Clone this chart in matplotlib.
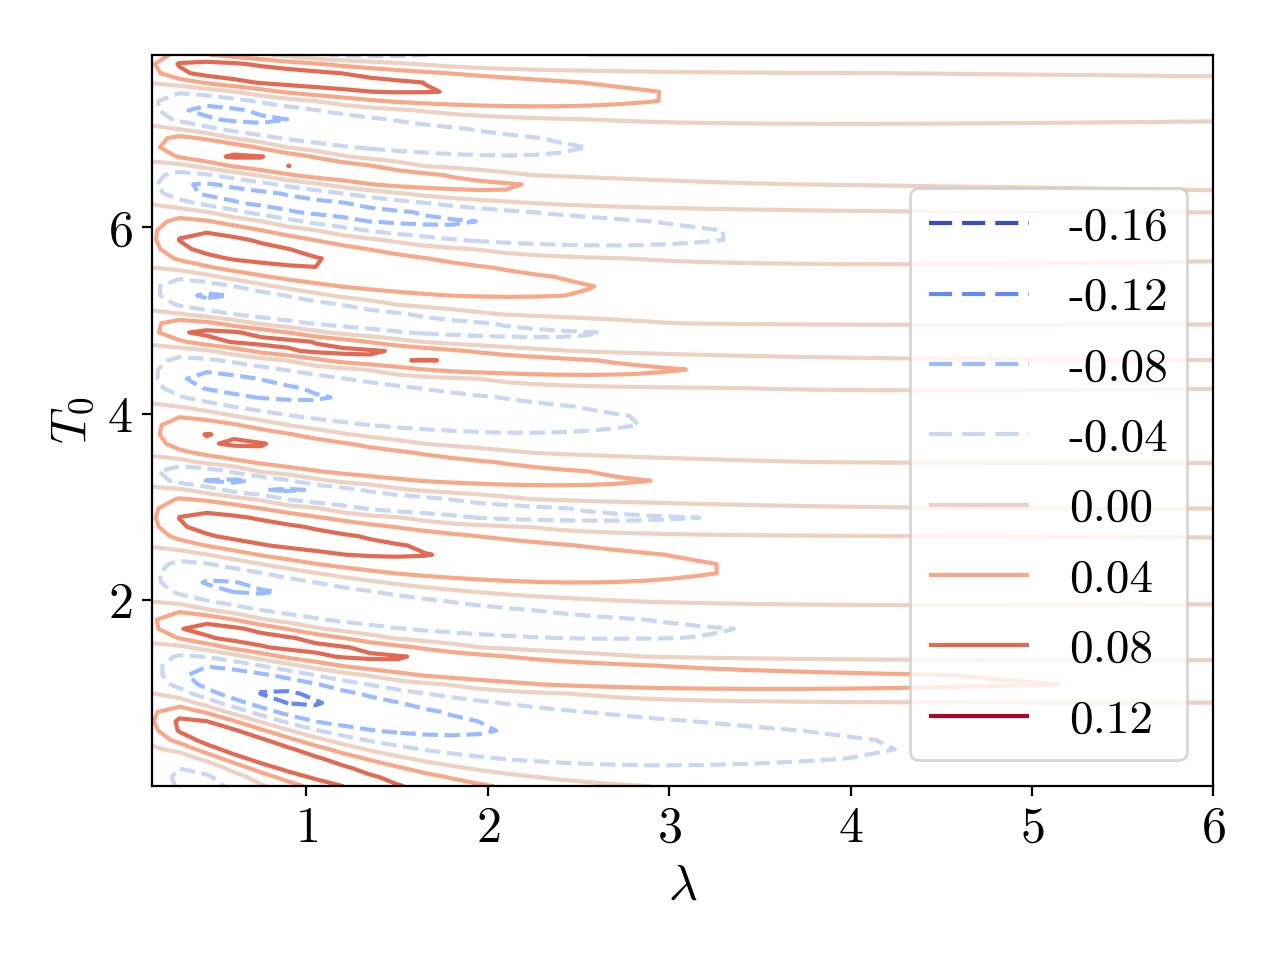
import numpy as np
import matplotlib
matplotlib.use("Agg")
import matplotlib.pyplot as plt
from matplotlib.colors import Normalize

plt.rcParams.update({
    "font.family": "serif",
    "font.serif": ["cmr10"],
    "mathtext.fontset": "cm",
    "axes.formatter.use_mathtext": True,
    "axes.unicode_minus": False,
    "font.size": 18,
})

LEVELS = [-0.16, -0.12, -0.08, -0.04, 0.00, 0.04, 0.08, 0.12]
LEVEL_LABELS = ["-0.16", "-0.12", "-0.08", "-0.04", "0.00", "0.04", "0.08", "0.12"]

# zero contours: T0 where each one settles at large lambda, and how much higher it starts at the left edge
ZERO_RIGHT = [-0.90, -0.10, 0.90, 1.33, 1.92, 2.68, 2.98, 3.46, 4.25, 4.60,
              4.92, 5.60, 6.16, 6.44, 7.10, 7.65, 7.81, 8.40]
ZERO_RISE = [1.35, 1.10, 0.65, 0.65, 0.65, 0.55, 0.55, 0.65, 0.50, 0.50,
             0.65, 0.65, 0.55, 0.65, 0.45, 0.30, 0.30, 0.30]

# bands between the zero contours (bottom to top): sign, peak |value|,
# lambda where the 0.08 lobe ends (None = no such lobe), lambda where the 0.04 lobe ends
BAND_SIGN = [-1, 1, -1, 1, -1, 1, -1, 1, -1, 1, -1, 1, -1, 1, -1, 1, -1, 1, -1]
BAND_PEAK = [0.060, 0.110, 0.132, 0.100, 0.087, 0.100, 0.090, 0.087, 0.095, 0.095,
             0.090, 0.100, 0.095, 0.087, 0.095, 0.105, 0.060, 0.060, 0.030]
BAND_TIP08 = [None, 1.60, 2.05, 1.80, 0.90, 1.70, 1.20, 0.90, 1.15, 1.75,
              0.75, 1.15, 2.00, 1.00, 0.95, 1.80, None, None, None]
BAND_TIP04 = [0.60, 3.00, 4.25, 5.22, 3.40, 3.30, 3.20, 2.90, 2.85, 3.10,
              2.85, 2.60, 3.35, 2.35, 2.55, 3.00, 2.00, 1.00, 0.50]
# where the decay starts, and how fast the band builds up from the left edge
BAND_PLATEAU = [0.5, 0.5, 1.0, 0.5, 0.5, 0.5, 0.5, 0.5, 0.5, 0.5,
                0.5, 0.5, 0.5, 0.5, 0.5, 0.5, 0.5, 0.5, 0.5]
BAND_ONSET = [0.12, 0.12, 0.25, 0.12, 0.12, 0.12, 0.12, 0.12, 0.12, 0.12,
              0.12, 0.12, 0.12, 0.12, 0.12, 0.12, 0.12, 0.12, 0.12]

LAM_MIN, LAM_MAX = 0.15, 6.0
T0_MAX = 2.5 * np.pi


def drift(lv):
    return np.exp(-((lv - LAM_MIN) / 1.4) ** 1.3)


def band_amp(k, lv):
    peak, t8, t4 = BAND_PEAK[k], BAND_TIP08[k], BAND_TIP04[k]
    lp = BAND_PLATEAU[k]
    if peak <= 0.04:
        p, c = 1.5, 1.0
    else:
        a4 = np.log(peak / 0.04)
        if t8 is None:
            p = 1.5
        else:
            a8 = np.log(peak / 0.08)
            p = np.log(a4 / a8) / np.log((t4 - lp) / (t8 - lp))
        c = (t4 - lp) / a4 ** (1.0 / p)
    d = max(lv - lp, 0.0)
    build = 1.0 - np.exp(-(lv - 0.1) / BAND_ONSET[k])
    return peak * build * np.exp(-(d / c) ** p)


lam = np.linspace(LAM_MIN, LAM_MAX, 40)
t0 = np.linspace(0.0, T0_MAX, 80)
L, T = np.meshgrid(lam, t0)
Z = np.zeros_like(L)
zr = np.array(ZERO_RIGHT)
zd = np.array(ZERO_RISE)
for j, lv in enumerate(lam):
    zb = zr + zd * drift(lv)
    zb = np.concatenate([[zb[0] - 0.6], zb, [zb[-1] + 0.6]])
    phase = np.interp(t0, zb, np.arange(len(zb)))
    k = np.clip(np.floor(phase).astype(int), 0, len(BAND_SIGN) - 1)
    x = phase - k
    amps = np.array([band_amp(i, lv) for i in range(len(BAND_SIGN))])
    Z[:, j] = np.array(BAND_SIGN)[k] * amps[k] * np.sin(np.pi * x)

fig, ax = plt.subplots(figsize=(6.4, 4.8), dpi=200)
styles = ["--" if lv < 0 else "-" for lv in LEVELS]
cs = ax.contour(L, T, Z, levels=LEVELS, cmap="coolwarm", linestyles=styles,
                linewidths=1.5, norm=Normalize(LEVELS[0], LEVELS[-1]))
handles, _ = cs.legend_elements()
ax.legend(handles, LEVEL_LABELS, loc="lower right", fontsize=17, labelspacing=0.6,
          handlelength=2.12, handletextpad=0.85, borderaxespad=0.55)
ax.set_xlim(LAM_MIN, LAM_MAX)
ax.set_ylim(0, T0_MAX)
ax.set_xticks([1, 2, 3, 4, 5, 6])
ax.set_yticks([2, 4, 6])
ax.set_xlabel(r"$\lambda$")
ax.set_ylabel(r"$T_0$")
fig.subplots_adjust(left=0.119, right=0.948, top=0.943, bottom=0.181)
fig.savefig("out.png", dpi=200)
